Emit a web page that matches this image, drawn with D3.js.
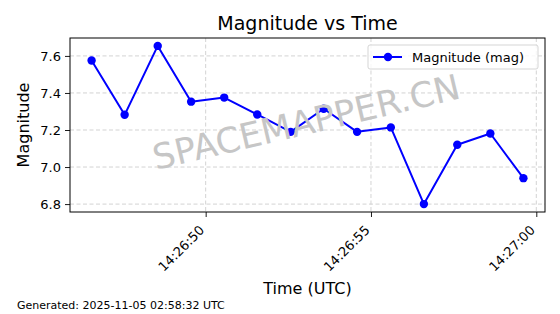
<!DOCTYPE html>
<html>
<head>
<meta charset="utf-8">
<script src="https://cdn.jsdelivr.net/npm/d3@7"></script>
<style>
  body { margin: 0; background: #fff; }
  svg { display: block; font-family: "DejaVu Sans", sans-serif; }
</style>
</head>
<body>
<div id="chart"></div>
<script>
const times = [
  "14:26:46.55", "14:26:47.55", "14:26:48.55", "14:26:49.56",
  "14:26:50.56", "14:26:51.56", "14:26:52.57", "14:26:53.57",
  "14:26:54.58", "14:26:55.60", "14:26:56.60", "14:26:57.61",
  "14:26:58.61", "14:26:59.61"
];
const magnitudes = [7.575, 7.282, 7.654, 7.353, 7.375, 7.284, 7.19, 7.315, 7.19, 7.214, 6.80, 7.12, 7.181, 6.94];
const yTicks = [6.8, 7.0, 7.2, 7.4, 7.6];
const xTicks = ["14:26:50", "14:26:55", "14:27:00"];
const seriesName = "Magnitude (mag)";
const footer = "Generated: 2025-11-05 02:58:32 UTC";

const width = 560, height = 314;
const margin = { top: 38, right: 15, bottom: 102, left: 70 };
const innerW = width - margin.left - margin.right;
const innerH = height - margin.top - margin.bottom;

const parseT = d3.utcParse("%H:%M:%S.%L");
const parseTick = d3.utcParse("%H:%M:%S");
const data = times.map((t, i) => ({ t: parseT(t.padEnd(12, "0")), v: magnitudes[i] }));

// matplotlib-like 5% padding on both axes
const pad = (ext) => { const d = (ext[1] - ext[0]) * 0.05; return [ext[0] - d, ext[1] + d]; };
const tExt = d3.extent(data, d => +d.t);
const x = d3.scaleUtc().domain(pad(tExt).map(v => new Date(v))).range([0, innerW]);
const y = d3.scaleLinear().domain(pad(d3.extent(magnitudes))).range([innerH, 0]);

const svg = d3.select("#chart").append("svg")
  .attr("width", width).attr("height", height);

const g = svg.append("g").attr("transform", `translate(${margin.left},${margin.top})`);

// grid
const gridColor = "#c8c8c8";
g.append("g").selectAll("line").data(yTicks).join("line")
  .attr("x1", 0).attr("x2", innerW)
  .attr("y1", d => y(d)).attr("y2", d => y(d))
  .attr("stroke", gridColor).attr("stroke-width", 0.8).attr("stroke-dasharray", "4,2.5");
g.append("g").selectAll("line").data(xTicks).join("line")
  .attr("x1", d => x(parseTick(d))).attr("x2", d => x(parseTick(d)))
  .attr("y1", 0).attr("y2", innerH)
  .attr("stroke", gridColor).attr("stroke-width", 0.8).attr("stroke-dasharray", "4,2.5");

// watermark
svg.append("text")
  .attr("transform", "translate(309,134) rotate(-13.2)")
  .attr("text-anchor", "middle")
  .attr("font-size", 35)
  .attr("fill", "#c6c6c6")
  .text("SPACEMAPPER.CN");

// line + markers
g.append("path").datum(data)
  .attr("fill", "none").attr("stroke", "#0000ff").attr("stroke-width", 2)
  .attr("stroke-linejoin", "round")
  .attr("d", d3.line().x(d => x(d.t)).y(d => y(d.v)));
g.append("g").selectAll("circle").data(data).join("circle")
  .attr("cx", d => x(d.t)).attr("cy", d => y(d.v))
  .attr("r", 4.2).attr("fill", "#0000ff");

// axes
const yAxis = d3.axisLeft(y).tickValues(yTicks).tickSize(5).tickPadding(4).tickFormat(d3.format(".1f"));
const yg = g.append("g").call(yAxis).attr("font-family", "DejaVu Sans");
yg.select(".domain").remove();
yg.selectAll("text").attr("font-size", 13).attr("fill", "#000");
yg.selectAll("line").attr("stroke", "#000").attr("stroke-width", 0.9);

const xAxis = d3.axisBottom(x).tickValues(xTicks.map(parseTick)).tickSize(5).tickFormat(d3.utcFormat("%H:%M:%S"));
const xg = g.append("g").attr("transform", `translate(0,${innerH})`).call(xAxis).attr("font-family", "DejaVu Sans");
xg.select(".domain").remove();
xg.selectAll("line").attr("stroke", "#000").attr("stroke-width", 0.9);
xg.selectAll("text")
  .attr("font-size", 13).attr("fill", "#000")
  .attr("text-anchor", "end")
  .attr("y", 0).attr("dy", 0)
  .attr("transform", "translate(-1,19) rotate(-45)");

// frame
g.append("rect").attr("width", innerW).attr("height", innerH)
  .attr("fill", "none").attr("stroke", "#000").attr("stroke-width", 1);

// legend
const lg = svg.append("g").attr("transform", "translate(368,45)");
lg.append("rect").attr("width", 170).attr("height", 24).attr("rx", 2)
  .attr("fill", "#fff").attr("fill-opacity", 0.8).attr("stroke", "#d5d5d5");
lg.append("line").attr("x1", 5).attr("x2", 34).attr("y1", 12).attr("y2", 12)
  .attr("stroke", "#0000ff").attr("stroke-width", 2);
lg.append("circle").attr("cx", 20).attr("cy", 12).attr("r", 4.2).attr("fill", "#0000ff");
lg.append("text").attr("x", 44).attr("y", 16.5).attr("font-size", 13).text(seriesName);

// titles
svg.append("text").attr("x", margin.left + innerW / 2).attr("y", 30)
  .attr("text-anchor", "middle").attr("font-size", 19).text("Magnitude vs Time");
svg.append("text").attr("x", margin.left + innerW / 2).attr("y", 294)
  .attr("text-anchor", "middle").attr("font-size", 16).text("Time (UTC)");
svg.append("text").attr("transform", `translate(29,${margin.top + innerH / 2}) rotate(-90)`)
  .attr("text-anchor", "middle").attr("font-size", 16).text("Magnitude");
svg.append("text").attr("x", 17).attr("y", 309).attr("font-size", 11).text(footer);
</script>
</body>
</html>
